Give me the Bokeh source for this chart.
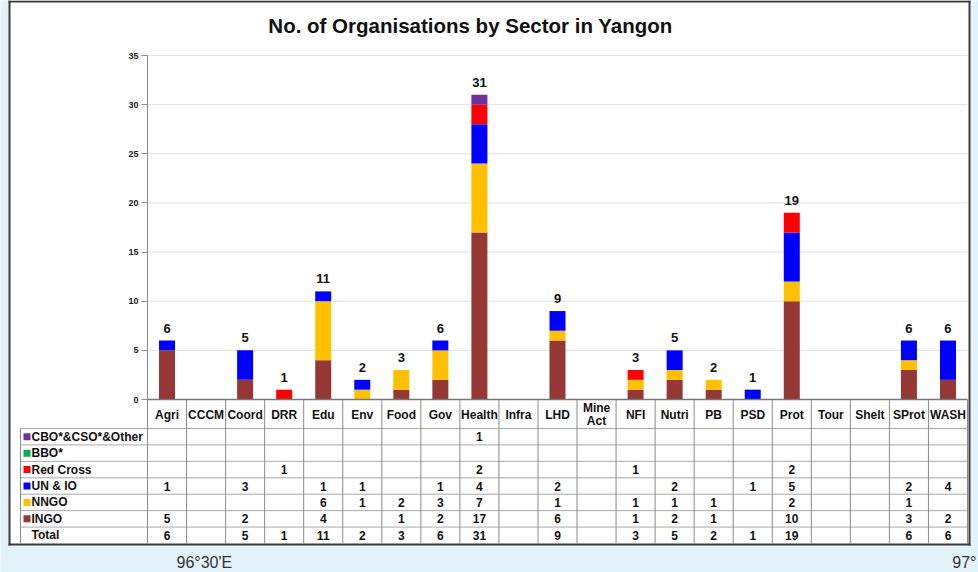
from bokeh.plotting import figure
from bokeh.models import ColumnDataSource, Range1d, FixedTicker
from bokeh.embed import file_html
from bokeh.resources import INLINE
from bokeh.core.properties import value

# ---------------- data ----------------
categories = ["Agri", "CCCM", "Coord", "DRR", "Edu", "Env", "Food", "Gov", "Health", "Infra",
              "LHD", "Mine Act", "NFI", "Nutri", "PB", "PSD", "Prot", "Tour", "Shelt", "SProt", "WASH"]
series_names = ["CBO*&CSO*&Other", "BBO*", "Red Cross", "UN & IO", "NNGO", "INGO"]
cbo = [0, 0, 0, 0, 0, 0, 0, 0, 1, 0, 0, 0, 0, 0, 0, 0, 0, 0, 0, 0, 0]
bbo = [0, 0, 0, 0, 0, 0, 0, 0, 0, 0, 0, 0, 0, 0, 0, 0, 0, 0, 0, 0, 0]
red_cross = [0, 0, 0, 1, 0, 0, 0, 0, 2, 0, 0, 0, 1, 0, 0, 0, 2, 0, 0, 0, 0]
un_io = [1, 0, 3, 0, 1, 1, 0, 1, 4, 0, 2, 0, 0, 2, 0, 1, 5, 0, 0, 2, 4]
nngo = [0, 0, 0, 0, 6, 1, 2, 3, 7, 0, 1, 0, 1, 1, 1, 0, 2, 0, 0, 1, 0]
ingo = [5, 0, 2, 0, 4, 0, 1, 2, 17, 0, 6, 0, 1, 2, 1, 0, 10, 0, 0, 3, 2]
y_ticks = [0, 5, 10, 15, 20, 25, 30, 35]
title_text = "No. of Organisations by Sector in Yangon"
total_label = "Total"
coord_labels = ["96\u00b030'E", "97\u00b0"]

series_colors = ["#7030A0", "#00B050", "#FF0000", "#0000FF", "#FFC000", "#953735"]

totals = [a + b + c + d + e + f for a, b, c, d, e, f in zip(cbo, bbo, red_cross, un_io, nngo, ingo)]

FONT_NAME = "Liberation Sans"
FONT = value(FONT_NAME)
BLUE_BG = "#e3f3fc"
BORDER = "#3a3a3a"
TXT = "#111111"
TABLE_FS = "12px"

# ---------------- geometry helpers (canvas pixels -> data) ----------------
W, H = 978, 572
col_left_px, col_right_px = 147.0, 967.0
ncat = len(categories)
col_w = (col_right_px - col_left_px) / ncat
frame_top1, frame_bot1 = 55.0, 399.0
unit1 = (frame_bot1 - frame_top1) / max(y_ticks)
table_bot, header_bot = 543.0, 428.0
nrows = len(series_names) + 1
row_h = (table_bot - header_bot) / nrows


def xd(px):
    return (px - col_left_px) / col_w


def yc(py):
    return (frame_bot1 - py) / unit1


xs = [i + 0.5 for i in range(ncat)]

p = figure(width=W, height=H, x_range=Range1d(xd(0), xd(W)), y_range=Range1d(yc(H), yc(0)),
           output_backend="svg", toolbar_location=None,
           min_border_left=0, min_border_right=0, min_border_top=0, min_border_bottom=0)
p.xaxis.visible = False
p.grid.visible = False
p.outline_line_color = None
p.background_fill_color = BLUE_BG
p.border_fill_color = BLUE_BG

# y axis crossing at the first column edge
p.yaxis.fixed_location = 0
p.yaxis.bounds = (0, max(y_ticks))
p.yaxis.ticker = FixedTicker(ticks=y_ticks)
p.yaxis.axis_line_color = "#8a8a8a"
p.yaxis.major_tick_line_color = "#8a8a8a"
p.yaxis.major_tick_out = 6
p.yaxis.major_tick_in = 0
p.yaxis.minor_tick_line_color = None
p.yaxis.major_label_text_font = FONT_NAME
p.yaxis.major_label_text_font_style = "bold"
p.yaxis.major_label_text_font_size = "9px"
p.yaxis.major_label_text_color = "#222222"
p.yaxis.major_label_standoff = 3

# white chart box with dark border
p.quad(left=[xd(8)], right=[xd(970)], bottom=[yc(545)], top=[yc(0)],
       fill_color="white", line_color=None)
p.quad(left=[xd(8), xd(8), xd(968), xd(8)], right=[xd(10), xd(970), xd(970), xd(970)],
       bottom=[yc(545), yc(545), yc(545), yc(2)], top=[yc(0), yc(543), yc(0), yc(0)],
       fill_color=BORDER, line_color=None)

# horizontal grid lines
gy = [t for t in y_ticks if t > 0]
p.segment(x0=[0] * len(gy), y0=gy, x1=[ncat] * len(gy), y1=gy, line_color="#e0e0e0", line_width=1)

# stacked bars
src = ColumnDataSource(dict(x=xs, ingo=ingo, nngo=nngo, un_io=un_io, red_cross=red_cross,
                            bbo=bbo, cbo=cbo))
p.vbar_stack(["ingo", "nngo", "un_io", "red_cross", "bbo", "cbo"], x="x", width=0.41,
             color=list(reversed(series_colors)), line_color=None, source=src)

# total labels above bars
lab_x = [x for x, t in zip(xs, totals) if t]
lab_y = [t for t in totals if t]
lab_t = [str(t) for t in totals if t]
p.text(x=lab_x, y=lab_y, text=lab_t, text_align="center", text_baseline="bottom",
       y_offset=-8, text_font=FONT, text_font_style="bold", text_font_size="13px", text_color=TXT)

# title
p.text(x=[xd(470)], y=[yc(25)], text=[title_text], text_align="center", text_baseline="middle",
       text_font=FONT, text_font_style="bold", text_font_size="20.5px", text_color=TXT)

# ---------------- data table ----------------
label_left = xd(20)
row_edges = [yc(header_bot + k * row_h) for k in range(nrows)]
p.segment(x0=[label_left] * len(row_edges), y0=row_edges, x1=[ncat] * len(row_edges), y1=row_edges,
          line_color="#a8a8a8", line_width=1)
vx = list(range(0, ncat + 1))
p.segment(x0=vx, y0=[yc(table_bot)] * len(vx), x1=vx, y1=[0] * len(vx),
          line_color="#8a8a8a", line_width=1)
p.segment(x0=[label_left], y0=[yc(table_bot)], x1=[label_left], y1=[yc(header_bot)],
          line_color="#8a8a8a", line_width=1)
# category baseline
p.segment(x0=[0], y0=[0], x1=[ncat], y1=[0], line_color="#777777", line_width=1.5)

# header category labels
hdr = [c.replace(" ", "\n") for c in categories]
p.text(x=xs, y=[yc(414)] * ncat, text=hdr, text_align="center", text_baseline="middle",
       text_font=FONT, text_font_style="bold", text_font_size=TABLE_FS, text_color=TXT,
       text_line_height=0.95)

rows = series_names + [total_label]
row_vals = [cbo, bbo, red_cross, un_io, nngo, ingo, totals]
row_y = [yc(header_bot + (k + 0.5) * row_h) for k in range(nrows)]
p.scatter(x=[xd(26.5)] * len(series_names), y=row_y[:len(series_names)], marker="square",
          size=7, fill_color=series_colors, line_color=None)
p.text(x=[xd(31)] * len(rows), y=row_y, text=rows, text_align="left", text_baseline="middle",
       text_font=FONT, text_font_style="bold", text_font_size=TABLE_FS, text_color=TXT)

cx, cy, ct = [], [], []
for r, vals in enumerate(row_vals):
    for i, v in enumerate(vals):
        if v:
            cx.append(xs[i])
            cy.append(row_y[r])
            ct.append(str(v))
p.text(x=cx, y=cy, text=ct, text_align="center", text_baseline="middle",
       text_font=FONT, text_font_style="bold", text_font_size=TABLE_FS, text_color=TXT)

# coordinate labels below the box
p.text(x=[xd(176)], y=[yc(562)], text=[coord_labels[0]], text_align="left",
       text_baseline="middle", text_font=FONT, text_font_size="16px", text_color="#333333")
p.text(x=[xd(976)], y=[yc(562)], text=[coord_labels[1]], text_align="right",
       text_baseline="middle", text_font=FONT, text_font_size="16px", text_color="#333333")

open("out.html", "w").write(file_html(p, INLINE))
